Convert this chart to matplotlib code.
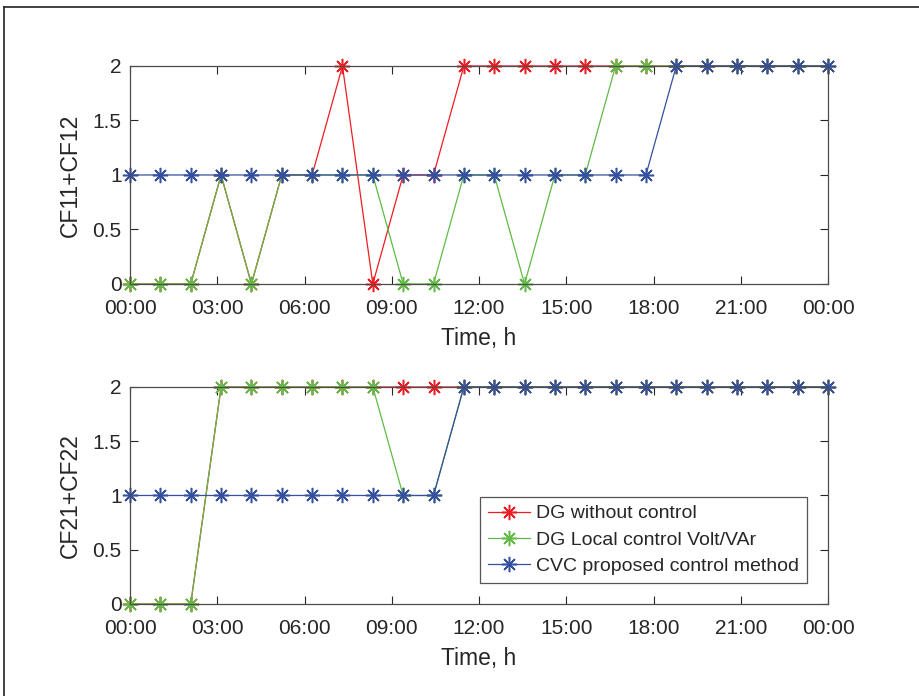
import numpy as np
import matplotlib
matplotlib.use('agg')
from matplotlib import pyplot as plt
from matplotlib.lines import Line2D

plt.rcParams['font.family'] = ['Liberation Sans', 'DejaVu Sans']

# 24 samples spread over one day (00:00 .. 24:00)
hours = np.linspace(0, 24, 24)

# CF11+CF12
cf1_no_ctrl = [0, 0, 0, 1, 0, 1, 1, 2, 0, 1, 1, 2, 2, 2, 2, 2, 2, 2, 2, 2, 2, 2, 2, 2]
cf1_local = [0, 0, 0, 1, 0, 1, 1, 1, 1, 0, 0, 1, 1, 0, 1, 1, 2, 2, 2, 2, 2, 2, 2, 2]
cf1_cvc = [1, 1, 1, 1, 1, 1, 1, 1, 1, 1, 1, 1, 1, 1, 1, 1, 1, 1, 2, 2, 2, 2, 2, 2]

# CF21+CF22
cf2_no_ctrl = [0, 0, 0, 2, 2, 2, 2, 2, 2, 2, 2, 2, 2, 2, 2, 2, 2, 2, 2, 2, 2, 2, 2, 2]
cf2_local = [0, 0, 0, 2, 2, 2, 2, 2, 2, 1, 1, 2, 2, 2, 2, 2, 2, 2, 2, 2, 2, 2, 2, 2]
cf2_cvc = [1, 1, 1, 1, 1, 1, 1, 1, 1, 1, 1, 2, 2, 2, 2, 2, 2, 2, 2, 2, 2, 2, 2, 2]

labels = ['DG without control', 'DG Local control Volt/VAr', 'CVC proposed control method']
colors = ['#ee1d23', '#5fbb45', '#34509f']

x_ticks = list(range(0, 25, 3))
x_ticklabels = ['%02d:00' % (h % 24) for h in x_ticks]

fig = plt.figure(figsize=(9.19, 6.96), dpi=100)
ax1 = fig.add_axes([0.1415, 0.592, 0.7595, 0.3132])
ax2 = fig.add_axes([0.1415, 0.1322, 0.7595, 0.3118])

text_col = '#262626'
marker = (8, 2, 0)  # asterisk

for ax, series, ylab in [(ax1, (cf1_no_ctrl, cf1_local, cf1_cvc), 'CF11+CF12'),
                         (ax2, (cf2_no_ctrl, cf2_local, cf2_cvc), 'CF21+CF22')]:
    for vals, col, lab in zip(series, colors, labels):
        ax.plot(hours, vals, color=col, marker=marker, markersize=11,
                markeredgewidth=1.1, linewidth=0.9, label=lab, clip_on=False)
    ax.set_xlim(0, 24)
    ax.set_ylim(0, 2)
    ax.set_xticks(x_ticks)
    ax.set_xticklabels(x_ticklabels)
    ax.set_yticks([0, 0.5, 1, 1.5, 2])
    ax.set_yticklabels(['0', '0.5', '1', '1.5', '2'])
    ax.tick_params(direction='in', top=True, right=True, length=6, width=0.8,
                   labelsize=15, colors=text_col, pad=6)
    ax.tick_params(axis='x', pad=11)
    for sp in ax.spines.values():
        sp.set_color('#4d4d4d')
        sp.set_linewidth(0.9)
    ax.set_xlabel('Time, h', fontsize=16.5, color=text_col, labelpad=6)
    ax.set_ylabel(ylab, fontsize=16.5, color=text_col, labelpad=8)

leg = ax2.legend(loc='lower right', bbox_to_anchor=(0.970, 0.097), borderaxespad=0,
                 fontsize=14, fancybox=False, edgecolor='#555555', framealpha=1,
                 handlelength=2.2, handletextpad=0.3, labelspacing=0.45, borderpad=0.4)
leg.get_frame().set_linewidth(0.9)
for t in leg.get_texts():
    t.set_color(text_col)

# frame lines along the top and left edge of the figure
fig.add_artist(Line2D([4 / 919, 1], [1 - 7 / 696, 1 - 7 / 696], color='#222222', linewidth=1.2))
fig.add_artist(Line2D([4 / 919, 4 / 919], [0, 1 - 7 / 696], color='#222222', linewidth=1.2))

plt.savefig('out.png', dpi=100)
